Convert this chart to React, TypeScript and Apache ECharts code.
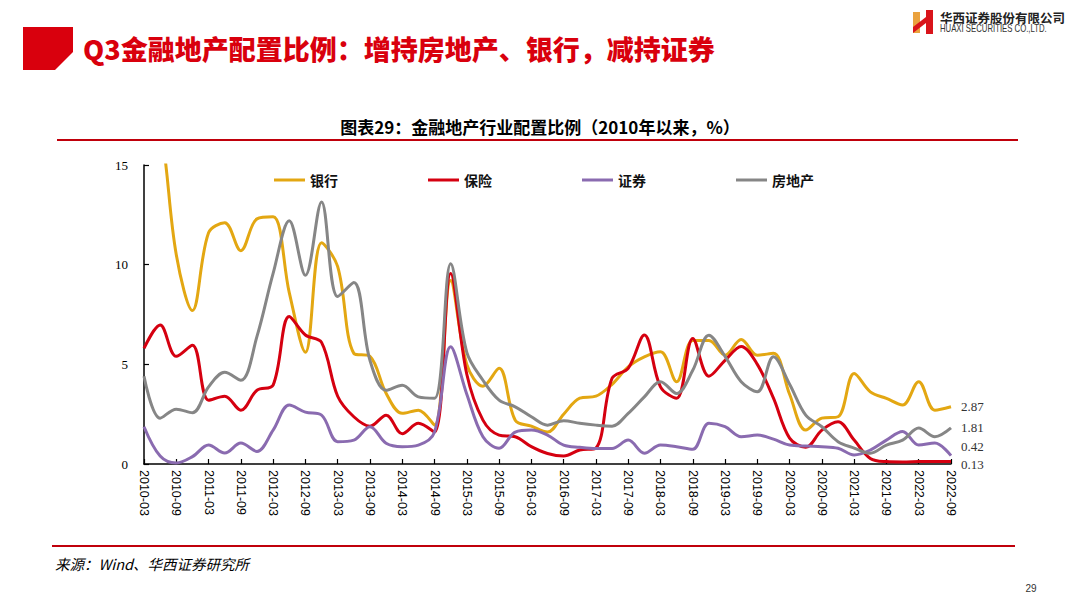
import React, { useEffect, useRef } from 'react';
import * as echarts from 'echarts';

const categories = [
  '2010-03', '2010-06', '2010-09', '2010-12', '2011-03', '2011-06', '2011-09', '2011-12',
  '2012-03', '2012-06', '2012-09', '2012-12', '2013-03', '2013-06', '2013-09', '2013-12',
  '2014-03', '2014-06', '2014-09', '2014-12', '2015-03', '2015-06', '2015-09', '2015-12',
  '2016-03', '2016-06', '2016-09', '2016-12', '2017-03', '2017-06', '2017-09', '2017-12',
  '2018-03', '2018-06', '2018-09', '2018-12', '2019-03', '2019-06', '2019-09', '2019-12',
  '2020-03', '2020-06', '2020-09', '2020-12', '2021-03', '2021-06', '2021-09', '2021-12',
  '2022-03', '2022-06', '2022-09',
];

const bank = [
  19, 17, 10.5, 7.7, 11.6, 12.1, 10.7, 12.3, 12.4, 8.6,
  5.6, 11.1, 9.9, 5.55, 5.4, 3.55, 2.54, 2.7, 1.95, 9.2,
  5.0, 3.9, 4.8, 2.2, 1.9, 1.6, 2.5, 3.3, 3.4, 4.0,
  4.87, 5.37, 5.63, 4.13, 6.2, 6.2, 5.46, 6.25, 5.46, 5.55,
  3.5, 1.7, 2.3, 2.37, 4.54, 3.62, 3.29, 2.96, 4.13, 2.7,
  2.87,
];

const insurance = [
  5.8, 6.97, 5.4, 5.96, 3.2, 3.4, 2.7, 3.7, 3.96, 7.4,
  6.47, 6.1, 3.4, 2.37, 1.9, 2.45, 1.52, 2.04, 1.6, 9.56,
  4.5, 2.2, 1.45, 1.37, 0.87, 0.53, 0.4, 0.7, 0.8, 4.3,
  4.8, 6.47, 3.87, 3.3, 6.3, 4.4, 5.2, 5.9, 5.0, 3.3,
  1.3, 0.84, 1.7, 2.12, 1.2, 0.28, 0.12, 0.1, 0.12, 0.13,
  0.13,
];

const securities = [
  1.87, 0.4, 0.05, 0.37, 0.95, 0.55, 1.05, 0.63, 1.7, 2.96,
  2.6, 2.45, 1.12, 1.2, 1.87, 1.04, 0.87, 0.95, 1.6, 5.88,
  3.5, 1.37, 0.79, 1.6, 1.7, 1.45, 0.95, 0.84, 0.78, 0.78,
  1.2, 0.54, 0.95, 0.87, 0.74, 2.04, 1.87, 1.37, 1.45, 1.25,
  0.95, 0.9, 0.87, 0.79, 0.45, 0.7, 1.2, 1.63, 0.95, 1.05,
  0.42,
];

const realEstate = [
  4.4, 2.3, 2.75, 2.57, 3.87, 4.6, 4.2, 6.4, 9.56, 12.2,
  9.47, 13.15, 8.4, 9.1, 5.2, 3.7, 3.95, 3.37, 3.3, 10.05,
  5.6, 4.2, 3.2, 2.87, 2.37, 1.95, 2.17, 2.04, 1.95, 1.9,
  2.54, 3.37, 4.13, 3.54, 4.7, 6.46, 5.4, 4.13, 3.62, 5.38,
  4.0, 2.45, 1.87, 1.12, 0.8, 0.54, 0.95, 1.2, 1.8, 1.37,
  1.81,
];

const seriesNames = ['银行', '保险', '证券', '房地产'];
const yTicks = { min: 0, max: 15, interval: 5 };

const CJK = "'Noto Sans CJK SC', sans-serif";

export default function App() {
  const ref = useRef<HTMLDivElement>(null);

  useEffect(() => {
    if (!ref.current) return;
    const chart = echarts.init(ref.current, null, { renderer: 'svg' });

    const mk = (name: string, data: number[], color: string, dy: number) => ({
      name,
      type: 'line',
      data,
      smooth: 0.35,
      symbol: 'none',
      showSymbol: false,
      clip: true,
      lineStyle: { color, width: 3 },
      itemStyle: { color },
      endLabel: {
        show: true,
        formatter: (p: any) => String(p.value),
        distance: 10,
        offset: [0, dy],
        fontFamily: "'Liberation Serif', serif",
        fontSize: 13,
        color: '#333',
      },
    });

    chart.setOption({
      animation: false,
      backgroundColor: '#ffffff',
      grid: { left: 144, right: 129, top: 165, bottom: 141, containLabel: false },
      legend: {
        data: seriesNames,
        left: 269,
        top: 168,
        icon: 'rect',
        itemWidth: 31,
        itemHeight: 3,
        itemGap: 90,
        textStyle: { fontFamily: CJK, fontSize: 14, fontWeight: 'bold', color: '#111' },
      },
      xAxis: {
        type: 'category',
        data: categories,
        boundaryGap: false,
        axisLine: { lineStyle: { color: '#000', width: 1.5 } },
        axisTick: { inside: true, interval: 1, length: 5, lineStyle: { color: '#000', width: 1.2 } },
        axisLabel: {
          interval: 1,
          rotate: -90,
          margin: 6,
          fontFamily: "'Liberation Sans', Arial, sans-serif",
          fontSize: 12.5,
          color: '#000',
        },
        splitLine: { show: false },
      },
      yAxis: {
        type: 'value',
        min: yTicks.min,
        max: yTicks.max,
        interval: yTicks.interval,
        axisLine: { show: true, lineStyle: { color: '#000', width: 1.5 } },
        axisTick: { show: true, inside: true, length: 5, lineStyle: { color: '#000', width: 1.2 } },
        axisLabel: {
          margin: 16,
          fontFamily: "'Liberation Serif', serif",
          fontSize: 13,
          color: '#000',
        },
        splitLine: { show: false },
      },
      series: [
        mk('银行', bank, '#E3A712', 0),
        mk('保险', insurance, '#D50010', 3),
        mk('证券', securities, '#8A6BB0', -9),
        mk('房地产', realEstate, '#868686', 0),
      ],
      graphic: [
        {
          type: 'polygon',
          shape: { points: [[23, 27], [73, 27], [73, 52], [55, 70], [23, 70]] },
          style: { fill: '#D9000D' },
        },
        {
          type: 'text',
          x: 83,
          y: 48,
          style: {
            text: 'Q3金融地产配置比例：增持房地产、银行，减持证券',
            fontFamily: CJK,
            fontSize: 27,
            fontWeight: 900,
            fill: '#D9000D',
            verticalAlign: 'middle',
            align: 'left',
          },
        },
        // logo
        {
          type: 'polygon',
          shape: { points: [[913, 12], [920, 12], [920, 33], [913, 33]] },
          style: { fill: '#EAA23E' },
        },
        {
          type: 'polygon',
          shape: { points: [[926, 10], [933, 10], [933, 34], [926, 34]] },
          style: { fill: '#D9141B' },
        },
        {
          type: 'polygon',
          shape: { points: [[913, 27], [926, 17], [926, 23], [913, 33]] },
          style: { fill: '#D9141B' },
        },
        {
          type: 'text',
          x: 940,
          y: 17,
          style: {
            text: '华西证券股份有限公司',
            fontFamily: CJK,
            fontSize: 12.5,
            fontWeight: 'bold',
            fill: '#222',
            verticalAlign: 'middle',
          },
        },
        {
          type: 'text',
          x: 940,
          y: 29,
          scaleX: 0.74,
          style: {
            text: 'HUAXI SECURITIES CO.,LTD.',
            fontFamily: "'Liberation Sans', sans-serif",
            fontSize: 10.5,
            fill: '#333',
            verticalAlign: 'middle',
          },
        },
        // chart title
        {
          type: 'text',
          x: 540,
          y: 126,
          style: {
            text: '图表29：金融地产行业配置比例（2010年以来，%）',
            fontFamily: CJK,
            fontSize: 17,
            fontWeight: 'bold',
            fill: '#000',
            align: 'center',
            verticalAlign: 'middle',
          },
        },
        {
          type: 'line',
          shape: { x1: 57, y1: 140, x2: 1018, y2: 140 },
          style: { stroke: '#C0000B', lineWidth: 2 },
        },
        {
          type: 'line',
          shape: { x1: 52, y1: 546, x2: 1015, y2: 546 },
          style: { stroke: '#C0000B', lineWidth: 2 },
        },
        {
          type: 'text',
          x: 55,
          y: 563,
          style: {
            text: '来源：Wind、华西证券研究所',
            fontFamily: CJK,
            fontSize: 14.5,
            fontStyle: 'italic',
            fill: '#000',
            verticalAlign: 'middle',
          },
        },
        {
          type: 'text',
          x: 1031,
          y: 588,
          style: {
            text: '29',
            fontFamily: "'Liberation Sans', sans-serif",
            fontSize: 10,
            fill: '#333',
            align: 'center',
            verticalAlign: 'middle',
          },
        },
      ],
    });

    return () => chart.dispose();
  }, []);

  return (
    <div
      ref={ref}
      style={{ position: 'fixed', left: 0, top: 0, width: 1080, height: 605, background: '#fff' }}
    />
  );
}
